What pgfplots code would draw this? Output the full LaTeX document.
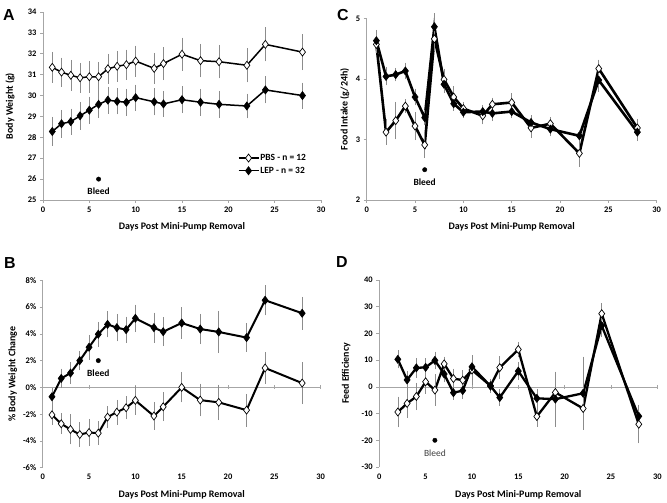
\documentclass[border=0pt]{standalone}
\usepackage{pgfplots}
\pgfplotsset{compat=1.18}
\usepackage{fontspec}
\setmainfont{Carlito}
\newfontfamily\letterfont{Liberation Sans}
\definecolor{axgray}{HTML}{A6A6A6}
\definecolor{errgray}{HTML}{8C8C8C}
\tikzset{bleedtext/.style={font=\fontsize{9.5}{11}\selectfont\bfseries}}
\pgfplotsset{
  panel/.style={scale only axis, xmin=0, xmax=30, xtick={0,5,...,30},
    separate axis lines,
    axis y line*=left, axis x line*=bottom,
    axis line style={axgray, line width=0.6bp, -},
    tick style={axgray, line width=0.6bp}, tick align=outside,
    major tick length=3bp,
    /pgf/number format/assume math mode=true,
    tick label style={font=\fontsize{8.5}{9}\selectfont\bfseries},
    label style={font=\fontsize{10}{11}\selectfont\bfseries},
    clip=false},
  zeroline/.style={x axis line style={draw=none}, xtick style={draw=none}},
  pbs/.style={black, line width=#1, mark=diamond*, mark size=4bp,
    mark options={fill=white, draw=black, line width=0.7bp, solid},
    error bars/.cd, y dir=both, y explicit,
    error bar style={errgray, line width=0.6bp},
    error mark options={errgray, line width=0.6bp, mark size=3bp}},
  lep/.style={black, line width=#1, mark=diamond*, mark size=4bp,
    mark options={fill=black, draw=black, line width=0.7bp, solid},
    error bars/.cd, y dir=both, y explicit,
    error bar style={errgray, line width=0.6bp},
    error mark options={errgray, line width=0.6bp, mark size=3bp}},
}
\begin{document}
\begin{tikzpicture}
\useasboundingbox (0,0) rectangle (667bp,503bp);
% Panel A
\begin{axis}[panel, at={(43bp,303bp)}, anchor=south west, width=278bp, height=188bp,
  ymin=25, ymax=34, ytick={25,26,...,34},
  xlabel={Days Post Mini-Pump Removal}, ylabel={Body Weight (g)},
  xlabel style={at={(axis description cs:0.5,-0.144)}, anchor=center},
  ylabel style={at={(axis description cs:-0.119,0.5)}, anchor=center},
  legend style={draw=none, fill=none, at={(axis description cs:0.70,0.25)}, anchor=north west,
    font=\fontsize{9.5}{11}\selectfont\bfseries, row sep=3bp, inner sep=0pt,
    nodes={inner sep=1bp}, cells={anchor=west}},
  legend image code/.code={\draw[#1, mark repeat=2, mark phase=2] plot coordinates {(0bp,0bp)(10bp,0bp)(20bp,0bp)};}]
\addplot[pbs=1.5bp] table[x=x, y=y, y error=e] {
x y e
1 31.35 0.6
2 31.12 0.55
3 30.97 0.6
4 30.85 0.57
5 30.9 0.62
6 30.9 0.57
7 31.28 0.57
8 31.4 0.6
9 31.48 0.58
10 31.65 0.6
12 31.3 0.6
13 31.53 0.65
15 31.98 0.65
17 31.67 0.66
19 31.62 0.66
22 31.45 0.68
24 32.45 0.67
28 32.08 0.72
};
\addlegendentry{PBS - n = 12}
\addplot[lep=1.5bp] table[x=x, y=y, y error=e] {
x y e
1 28.28 0.55
2 28.65 0.52
3 28.75 0.48
4 29.03 0.52
5 29.3 0.5
6 29.58 0.5
7 29.78 0.5
8 29.72 0.48
9 29.68 0.5
10 29.9 0.48
12 29.7 0.5
13 29.6 0.48
15 29.8 0.5
17 29.68 0.5
19 29.58 0.5
22 29.5 0.45
24 30.27 0.5
28 30.0 0.48
};
\addlegendentry{LEP - n = 32}
\addplot[only marks, mark=*, mark size=2.2bp, black, forget plot] coordinates {(6,26)};
\node[bleedtext] at (axis cs:6,25.43) {Bleed};
\end{axis}
% Panel C
\begin{axis}[panel, at={(366.7bp,303bp)}, anchor=south west, width=290bp, height=181.7bp,
  ymin=2, ymax=5, ytick={2,3,4,5},
  xlabel={Days Post Mini-Pump Removal}, ylabel={Food Intake (g/24h)},
  xlabel style={at={(axis description cs:0.5,-0.148)}, anchor=center},
  ylabel style={at={(axis description cs:-0.076,0.5)}, anchor=center}]
\addplot[pbs=2.6bp] table[x=x, y=y, y error=e] {
x y e
1 4.57 0.1
2 3.12 0.16
3 3.31 0.26
4 3.55 0.06
5 3.22 0.18
6 2.91 0.17
7 4.66 0.15
8 3.99 0.13
9 3.70 0.13
10 3.51 0.06
12 3.39 0.09
13 3.58 0.06
15 3.61 0.1
17 3.19 0.12
19 3.26 0.06
22 2.77 0.17
24 4.17 0.1
28 3.19 0.1
};
\addplot[lep=2.6bp] table[x=x, y=y, y error=e] {
x y e
1 4.63 0.13
2 4.04 0.1
3 4.07 0.06
4 4.13 0.09
5 3.70 0.09
6 3.36 0.08
7 4.86 0.17
8 3.91 0.1
9 3.59 0.07
10 3.45 0.05
12 3.46 0.06
13 3.43 0.08
15 3.46 0.06
17 3.28 0.07
19 3.17 0.07
22 3.06 0.05
24 3.98 0.15
28 3.12 0.1
};
\addplot[only marks, mark=*, mark size=2.2bp, black, forget plot] coordinates {(6,2.5)};
\node[bleedtext] at (axis cs:6,2.29) {Bleed};
\end{axis}
% Panel B
\begin{axis}[panel, zeroline, at={(42.7bp,35.3bp)}, anchor=south west, width=278bp, height=187.4bp,
  ymin=-6, ymax=8, ytick={-6,-4,...,8},
  yticklabel={\pgfmathprintnumber{\tick}\%},
  xlabel={Days Post Mini-Pump Removal}, ylabel={\% Body Weight Change},
  xlabel style={at={(axis description cs:0.5,-0.146)}, anchor=center},
  ylabel style={at={(axis description cs:-0.108,0.5)}, anchor=center}]
\draw[axgray, line width=0.6bp] (axis cs:0,0) -- (axis cs:30,0);
\pgfplotsinvokeforeach{5,10,...,30}{\draw[axgray, line width=0.6bp] (axis cs:#1,0) ++(0bp,2bp) -- ++(0bp,-4bp);}
\addplot[lep=2bp] table[x=x, y=y, y error=e] {
x y e
1 -0.7 0.4
2 0.67 0.5
3 1.07 0.6
4 2.0 0.5
5 3.0 0.7
6 3.97 0.7
7 4.71 0.75
8 4.46 0.8
9 4.31 0.75
10 5.16 0.8
12 4.46 0.9
13 4.16 0.85
15 4.81 0.95
17 4.36 0.9
19 4.14 1.35
22 3.72 0.85
24 6.51 0.9
28 5.54 1.0
};
\addplot[pbs=2bp] table[x=x, y=y, y error=e] {
x y e
1 -2.05 0.5
2 -2.72 0.55
3 -3.14 0.9
4 -3.52 0.7
5 -3.37 0.8
6 -3.42 0.65
7 -2.22 0.6
8 -1.85 0.7
9 -1.52 0.65
10 -0.97 0.85
12 -2.14 0.8
13 -1.45 0.85
15 0.0 0.9
17 -0.95 1.0
19 -1.12 1.1
22 -1.7 1.0
24 1.45 0.95
28 0.32 1.35
};
\addplot[only marks, mark=*, mark size=2.2bp, black, forget plot] coordinates {(6,2)};
\node[bleedtext] at (axis cs:6,1.07) {Bleed};
\end{axis}
% Panel D
\begin{axis}[panel, zeroline, at={(379.3bp,36bp)}, anchor=south west, width=278bp, height=187bp,
  ymin=-30, ymax=40, ytick={-30,-20,...,40},
  xlabel={Days Post Mini-Pump Removal}, ylabel={Feed Efficiency},
  xlabel style={at={(axis description cs:0.5,-0.15)}, anchor=center},
  ylabel style={at={(axis description cs:-0.119,0.5)}, anchor=center}]
\draw[axgray, line width=0.6bp] (axis cs:0,0) -- (axis cs:30,0);
\pgfplotsinvokeforeach{5,10,...,30}{\draw[axgray, line width=0.6bp] (axis cs:#1,0) ++(0bp,2bp) -- ++(0bp,-4bp);}
\addplot[pbs=2.3bp] table[x=x, y=y, y error=e] {
x y e
2 -9.4 4.6
3 -6.2 4.3
4 -3.6 4.0
5 1.9 3.4
6 -1.2 4.8
7 8.6 1.6
8 3.1 2.6
9 2.5 2.5
10 6.3 4.5
12 0.4 1.2
13 7.2 3.1
15 14.0 1.8
17 -11.1 2.7
19 -2.1 1.5
22 -8.1 5.5
24 27.4 2.8
28 -14.0 6.0
};
\addplot[lep=2.3bp] table[x=x, y=y, y error=e] {
x y e
2 10.3 2.3
3 2.6 2.3
4 7.1 2.5
5 7.3 2.3
6 9.9 2.2
7 4.8 2.0
8 -2.2 1.5
9 -1.4 1.9
10 7.5 2.0
12 0.3 1.5
13 -4.0 2.0
15 5.9 2.3
17 -4.3 2.3
19 -4.6 9.2
22 -2.4 12.6
24 22.9 3.0
28 -11.0 3.2
};
\addplot[only marks, mark=*, mark size=2.2bp, black, forget plot] coordinates {(6,-20)};
\node[font=\fontsize{9.5}{11}\selectfont, text=black!75] at (axis cs:6,-24.9) {Bleed};
\end{axis}
\node[font=\letterfont\bfseries\fontsize{16}{16}\selectfont] at (9bp,488bp) {A};
\node[font=\letterfont\bfseries\fontsize{16}{16}\selectfont] at (343bp,488bp) {C};
\node[font=\letterfont\bfseries\fontsize{16}{16}\selectfont] at (10bp,240bp) {B};
\node[font=\letterfont\bfseries\fontsize{16}{16}\selectfont] at (342bp,241bp) {D};
\end{tikzpicture}
\end{document}
